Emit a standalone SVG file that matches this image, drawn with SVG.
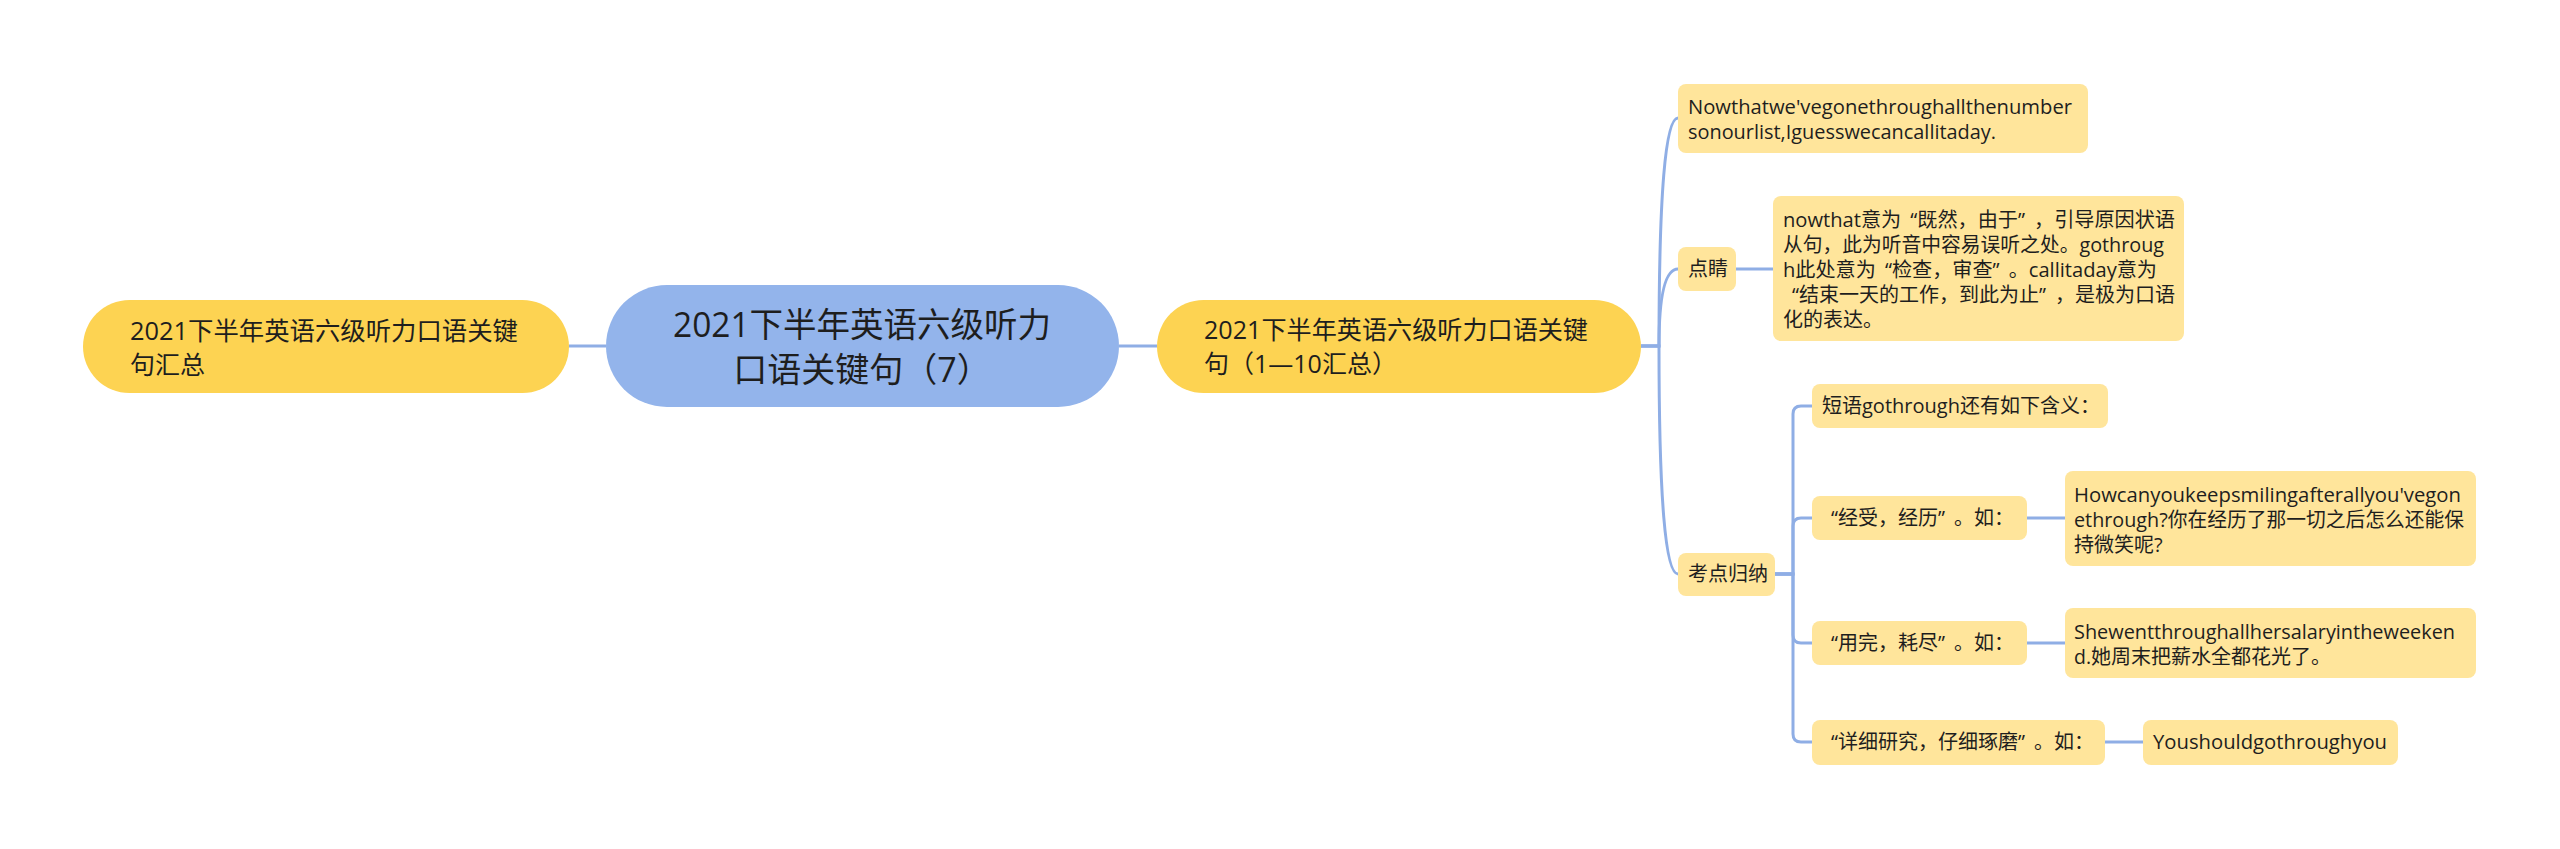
<svg xmlns="http://www.w3.org/2000/svg" width="2560" height="849" viewBox="0 0 2560 849">
<style>
.t{font-family:"Open Sans","Noto Sans CJK SC",sans-serif;fill:#1e1e1e;}
.main{fill:#FDD352;}
.center{fill:#93B4EB;}
.sub{fill:#FFE59B;}
.f25{font-size:25px;}
.f34{font-size:34px;}
.f20{font-size:20px;}
.ln{fill:none;stroke:#8FAEE5;stroke-width:3;}
</style>
<rect width="2560" height="849" fill="#ffffff"/>
<g id="connectors">
<path class="ln" d="M569,346 H606"/>
<path class="ln" d="M1119,346 H1157"/>
<path class="ln" d="M1641,346 H1659 Q1659,118 1678,118"/>
<path class="ln" d="M1641,346 H1659 Q1659,269 1678,269"/>
<path class="ln" d="M1641,346 H1659 Q1659,574 1678,574"/>
<path class="ln" d="M1736,269 H1773"/>
<path class="ln" d="M1775,574 H1793 V414 Q1793,406 1801,406 H1812"/>
<path class="ln" d="M1775,574 H1793 V526 Q1793,518 1801,518 H1812"/>
<path class="ln" d="M1775,574 H1793 V635 Q1793,643 1801,643 H1812"/>
<path class="ln" d="M1775,574 H1793 V734 Q1793,742 1801,742 H1812"/>
<path class="ln" d="M2027,518 H2065"/>
<path class="ln" d="M2027,643 H2065"/>
<path class="ln" d="M2105,742 H2143"/>
</g>
<g id="node-left">
<rect class="main" x="83" y="300" width="486" height="93" rx="46.5"/>
<text class="t f25" x="130" y="340" textLength="388" lengthAdjust="spacingAndGlyphs">2021下半年英语六级听力口语关键</text>
<text class="t f25" x="130" y="374">句汇总</text>
</g>
<g id="node-center">
<rect class="center" x="606" y="285" width="513" height="122" rx="61"/>
<text class="t f34" x="862" y="337" text-anchor="middle" textLength="378" lengthAdjust="spacingAndGlyphs">2021下半年英语六级听力</text>
<text class="t f34" x="862" y="382" text-anchor="middle">口语关键句（7）</text>
</g>
<g id="node-right">
<rect class="main" x="1157" y="300" width="484" height="93" rx="46.5"/>
<text class="t f25" x="1204" y="339" textLength="384" lengthAdjust="spacingAndGlyphs">2021下半年英语六级听力口语关键</text>
<text class="t f25" x="1204" y="373">句（1—10汇总）</text>
</g>
<g id="node-nowthat">
<rect class="sub" x="1678" y="84" width="410" height="69" rx="8"/>
<text class="t f20" x="1688" y="114" textLength="384" lengthAdjust="spacingAndGlyphs">Nowthatwe'vegonethroughallthenumber</text>
<text class="t f20" x="1688" y="139" textLength="308" lengthAdjust="spacingAndGlyphs">sonourlist,Iguesswecancallitaday.</text>
</g>
<g id="node-dianjing">
<rect class="sub" x="1678" y="247" width="58" height="44" rx="8"/>
<text class="t f20" x="1688" y="276">点睛</text>
</g>
<g id="node-dianjing-detail">
<rect class="sub" x="1773" y="196" width="411" height="145" rx="8"/>
<text class="t f20" x="1783" y="227" textLength="392" lengthAdjust="spacingAndGlyphs">nowthat意为<tspan dx="9">“</tspan>既然，由于”<tspan dx="9">，</tspan>引导原因状语</text>
<text class="t f20" x="1783" y="252" textLength="381" lengthAdjust="spacingAndGlyphs">从句，此为听音中容易误听之处。gothroug</text>
<text class="t f20" x="1783" y="277" textLength="374" lengthAdjust="spacingAndGlyphs">h此处意为<tspan dx="9">“</tspan>检查，审查”<tspan dx="9">。</tspan>callitaday意为</text>
<text class="t f20" x="1792" y="302" textLength="383" lengthAdjust="spacingAndGlyphs">“结束一天的工作，到此为止”<tspan dx="9">，</tspan>是极为口语</text>
<text class="t f20" x="1783" y="327">化的表达。</text>
</g>
<g id="node-kaodian">
<rect class="sub" x="1678" y="553" width="97" height="43" rx="8"/>
<text class="t f20" x="1688" y="581">考点归纳</text>
</g>
<g id="node-duanyu">
<rect class="sub" x="1812" y="384" width="296" height="44" rx="8"/>
<text class="t f20" x="1822" y="413">短语<tspan textLength="98" lengthAdjust="spacingAndGlyphs">gothrough</tspan>还有如下含义：</text>
</g>
<g id="node-jingshou">
<rect class="sub" x="1812" y="496" width="215" height="44" rx="8"/>
<text class="t f20" x="1831" y="525">“经受，经历”<tspan dx="9">。</tspan>如：</text>
</g>
<g id="node-jingshou-ex">
<rect class="sub" x="2065" y="471" width="411" height="95" rx="8"/>
<text class="t f20" x="2074" y="502" textLength="387" lengthAdjust="spacingAndGlyphs">Howcanyoukeepsmilingafterallyou'vegon</text>
<text class="t f20" x="2074" y="527" textLength="390" lengthAdjust="spacingAndGlyphs">ethrough?你在经历了那一切之后怎么还能保</text>
<text class="t f20" x="2074" y="552">持微笑呢?</text>
</g>
<g id="node-yongwan">
<rect class="sub" x="1812" y="621" width="215" height="44" rx="8"/>
<text class="t f20" x="1831" y="650">“用完，耗尽”<tspan dx="9">。</tspan>如：</text>
</g>
<g id="node-yongwan-ex">
<rect class="sub" x="2065" y="608" width="411" height="70" rx="8"/>
<text class="t f20" x="2074" y="639" textLength="381" lengthAdjust="spacingAndGlyphs">Shewentthroughallhersalaryintheweeken</text>
<text class="t f20" x="2074" y="664"><tspan textLength="17" lengthAdjust="spacingAndGlyphs">d.</tspan>她周末把薪水全都花光了。</text>
</g>
<g id="node-xiangxi">
<rect class="sub" x="1812" y="720" width="293" height="45" rx="8"/>
<text class="t f20" x="1831" y="749">“详细研究，仔细琢磨”<tspan dx="9">。</tspan>如：</text>
</g>
<g id="node-xiangxi-ex">
<rect class="sub" x="2143" y="720" width="255" height="45" rx="8"/>
<text class="t f20" x="2153" y="749" textLength="234" lengthAdjust="spacingAndGlyphs">Youshouldgothroughyou</text>
</g>
</svg>
